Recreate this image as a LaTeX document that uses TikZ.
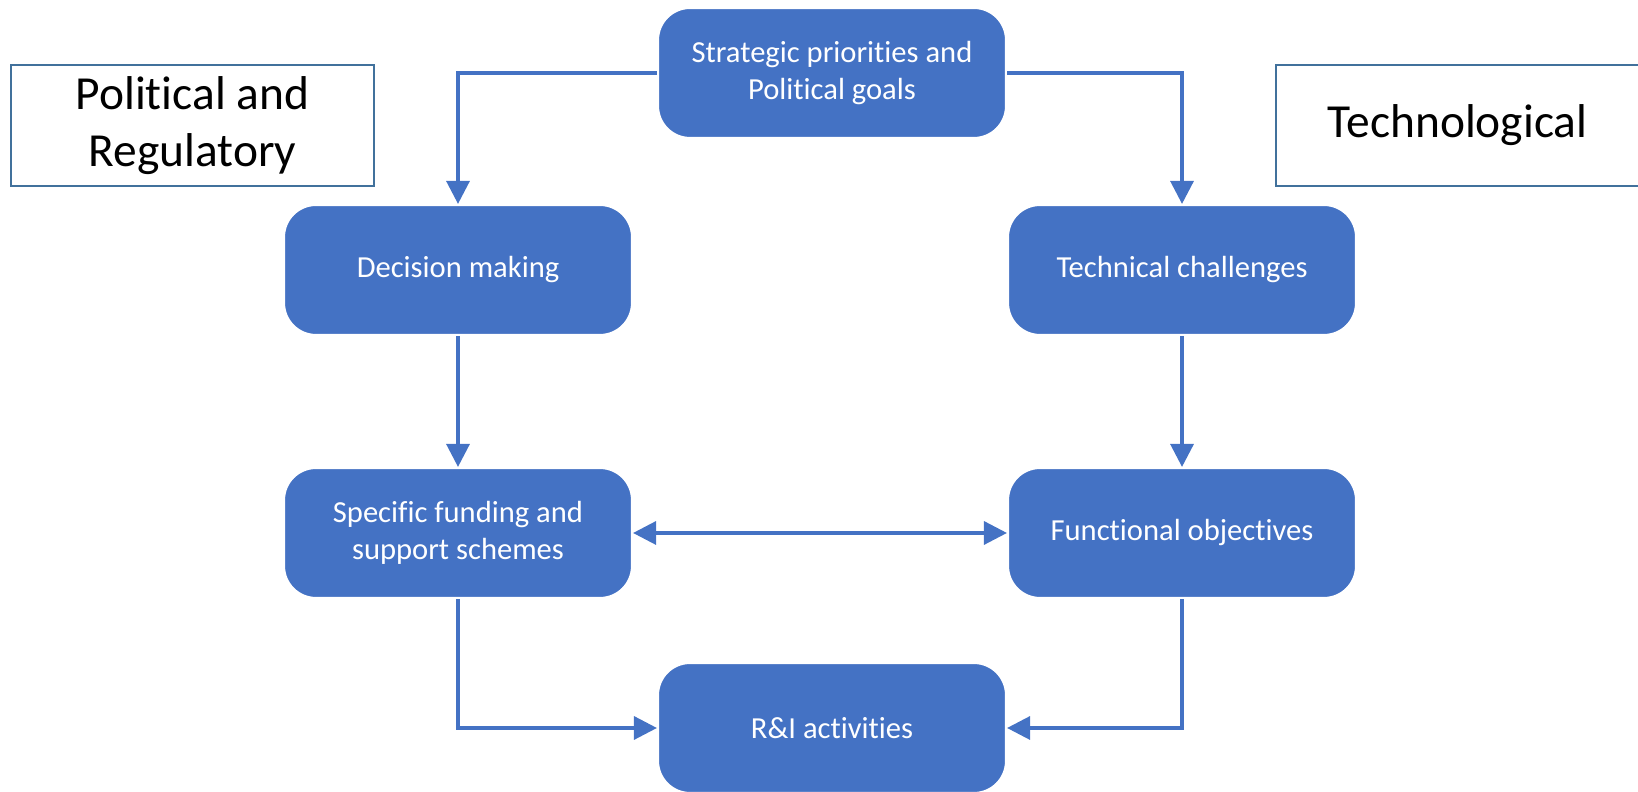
\documentclass[tikz,border=0pt]{standalone}
\usepackage{fontspec}
\setmainfont[Ligatures=NoCommon]{Carlito}
\usetikzlibrary{arrows.meta,positioning}
\definecolor{boxblue}{HTML}{4472C4}
\definecolor{edgeblue}{HTML}{41719C}

\begin{document}
\begin{tikzpicture}[
    stagebox/.style={rectangle, rounded corners=0.32cm, fill=boxblue, draw=white, line width=0.6pt,
      minimum width=3.48cm, minimum height=1.30cm, inner sep=0pt, align=center,
      text=white, font=\fontsize{8.7}{10.6}\selectfont},
    areabox/.style={rectangle, draw=edgeblue, line width=0.8pt, fill=white,
      minimum width=3.63cm, minimum height=1.21cm, inner sep=0pt, align=center,
      font=\fontsize{13.5}{16.3}\selectfont},
    flow/.style={draw=boxblue, line width=0.95pt, -{Triangle[length=2.3mm,width=2.3mm]}}
  ]
  \useasboundingbox (0,0) rectangle (16.38,7.92);
  \clip (0,0) rectangle (16.38,7.92);

  \node[stagebox] (top) at (8.32,7.19) {Strategic priorities and\\Political goals};
  \node[stagebox] (dec) at (4.58,5.22) {Decision making};
  \node[stagebox] (tech) at (11.82,5.22) {Technical challenges};
  \node[stagebox] (spec) at (4.58,2.59) {Specific funding and\\support schemes};
  \node[stagebox] (func) at (11.82,2.59) {Functional objectives};
  \node[stagebox] (ri) at (8.32,0.64) {R\&I activities};

  \node[areabox] (pol) at (1.925,6.665) {Political and\\Regulatory};
  \node[areabox] (techno) at (14.575,6.665) {Technological};

  \path[flow] (top.west) -| (dec.north);
  \path[flow] (top.east) -| (tech.north);
  \path[flow] (dec) -- (spec);
  \path[flow] (tech) -- (func);
  \path[flow, {Triangle[length=2.3mm,width=2.3mm]}-{Triangle[length=2.3mm,width=2.3mm]}] (spec) -- (func);
  \path[flow] (spec.south) |- (ri.west);
  \path[flow] (func.south) |- (ri.east);
\end{tikzpicture}
\end{document}
